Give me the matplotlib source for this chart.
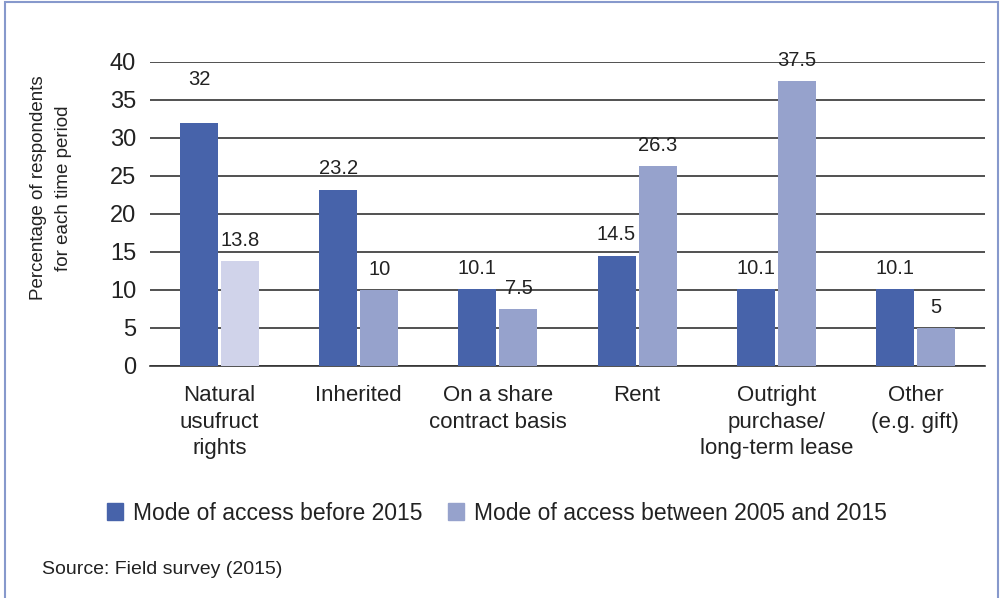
import numpy as np
import matplotlib.pyplot as plt
from matplotlib.patches import Rectangle, Patch

plt.rcParams['font.family'] = ['Liberation Sans', 'DejaVu Sans']

categories = ['Natural\nusufruct\nrights', 'Inherited', 'On a share\ncontract basis',
              'Rent', 'Outright\npurchase/\nlong-term lease', 'Other\n(e.g. gift)']
before_2015 = [32, 23.2, 10.1, 14.5, 10.1, 10.1]
between_2005_2015 = [13.8, 10, 7.5, 26.3, 37.5, 5]
series_names = ['Mode of access before 2015', 'Mode of access between 2005 and 2015']

dark = '#4763aa'
light = '#96a2cc'
pale = '#d0d3ea'

fig = plt.figure(figsize=(10.02, 5.98), dpi=100)
W, H = 1002, 598
ax = fig.add_axes([150 / W, 1 - 366 / H, 835 / W, 304 / H])

x = np.arange(len(categories))
bw = 0.273
gap = 0.011
light_colors = [pale] + [light] * (len(categories) - 1)
b1 = ax.bar(x - bw / 2 - gap, before_2015, bw, color=dark, zorder=3)
b2 = ax.bar(x + bw / 2 + gap, between_2005_2015, bw, color=light_colors, zorder=3)

for bars, vals in [(b1, before_2015), (b2, between_2005_2015)]:
    for r, v in zip(bars, vals):
        off = 31 if v == 32 else 15
        ax.annotate(f'{v:g}', (r.get_x() + r.get_width() / 2, v),
                    xytext=(0, off), textcoords='offset points',
                    ha='center', va='center', fontsize=14.5, color='#222222')

ax.set_xlim(-0.5, len(categories) - 0.5)
ax.set_ylim(0, 40)
ax.set_yticks(range(0, 41, 5))
ax.yaxis.grid(True, color='#333333', linewidth=1.2, zorder=0)
ax.set_axisbelow(True)
for s in ['top', 'right', 'left']:
    ax.spines[s].set_visible(False)
ax.spines['bottom'].set_color('#333333')
ax.spines['bottom'].set_linewidth(1.2)
ax.tick_params(axis='y', length=0, pad=10, labelsize=17, labelcolor='#222222')
ax.tick_params(axis='x', length=0, pad=14, labelsize=16, labelcolor='#222222')
ax.set_xticks(x)
ax.set_xticklabels(categories, linespacing=1.33, va='top')

fig.text(51 / W, 1 - 188 / H, 'Percentage of respondents\nfor each time period',
         rotation=90, ha='center', va='center', fontsize=13.5, color='#222222',
         linespacing=1.6)

handles = [Patch(color=dark), Patch(color=light)]
fig.legend(handles, series_names, loc='center', bbox_to_anchor=(497 / W, 1 - 513 / H),
           ncol=2, frameon=False, fontsize=16.5, handlelength=0.7, handleheight=0.7,
           handletextpad=0.45, columnspacing=1.1, labelcolor='#222222')

fig.text(42 / W, 1 - 569 / H, 'Source: Field survey (2015)', ha='left', va='center',
         fontsize=14, color='#222222')

fig.patches.append(Rectangle((5 / W, -0.05), 993 / W, 1.05 - 2 / H, transform=fig.transFigure,
                             fill=False, edgecolor='#8799cc', linewidth=1.5))

fig.savefig('out.png', dpi=100)
